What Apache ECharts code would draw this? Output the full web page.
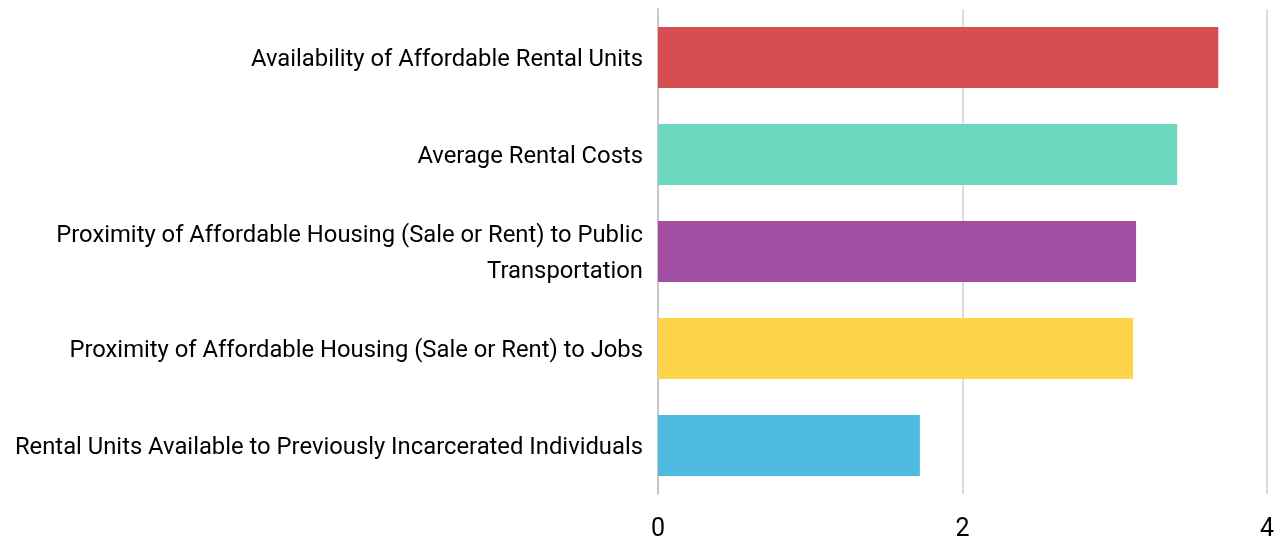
<!DOCTYPE html>
<html>
<head>
<meta charset="utf-8">
<script src="https://cdn.jsdelivr.net/npm/echarts@6/dist/echarts.min.js"></script>
<style>html,body{margin:0;padding:0;background:#fff}#c{width:1284px;height:544px}</style>
</head>
<body>
<div id="c"></div>
<script>
const categories = [
  'Availability of Affordable Rental Units',
  'Average Rental Costs',
  'Proximity of Affordable Housing (Sale or Rent) to Public\nTransportation',
  'Proximity of Affordable Housing (Sale or Rent) to Jobs',
  'Rental Units Available to Previously Incarcerated Individuals'
];
const values = [3.68, 3.41, 3.14, 3.12, 1.72];
const colors = ['#d64e4f', '#6bd8bf', '#a24ea2', '#fed54a', '#4fbbe1'];

const labelFont = {color: '#000', fontSize: 23.8, fontFamily: 'Roboto, sans-serif', lineHeight: 36, align: 'right'};

const chart = echarts.init(document.getElementById('c'), null, {renderer: 'canvas'});
chart.setOption({
  animation: false,
  grid: {left: 658, right: 17, top: 9, bottom: 50, containLabel: false},
  xAxis: {
    type: 'value', min: 0, max: 4, interval: 2,
    axisLine: {show: false}, axisTick: {show: false},
    splitLine: {show: true, lineStyle: {color: '#dddddd', width: 2}},
    axisLabel: {color: '#000', fontSize: 25, fontFamily: 'Roboto, sans-serif', margin: 23}
  },
  yAxis: {
    type: 'category', data: categories, inverse: true,
    axisLine: {show: true, lineStyle: {color: '#c8c8c8', width: 2}},
    axisTick: {show: false},
    axisLabel: {
      color: '#000', fontSize: 23.8, fontFamily: 'Roboto, sans-serif', margin: 15, lineHeight: 36, align: 'right',
      formatter: function (v) {
        return v.split('\n').map(function (s, i) { return (i === 0 ? '{a|' : '{b|') + s + '}'; }).join('\n');
      },
      rich: {
        a: Object.assign({padding: [6, 0, 0, 0]}, labelFont),
        b: Object.assign({padding: [6, 0, 0, 0]}, labelFont)
      }
    }
  },
  series: [{
    type: 'bar',
    barWidth: '63%',
    data: values.map((v, i) => ({value: v, itemStyle: {color: colors[i]}}))
  }]
});
</script>
</body>
</html>
